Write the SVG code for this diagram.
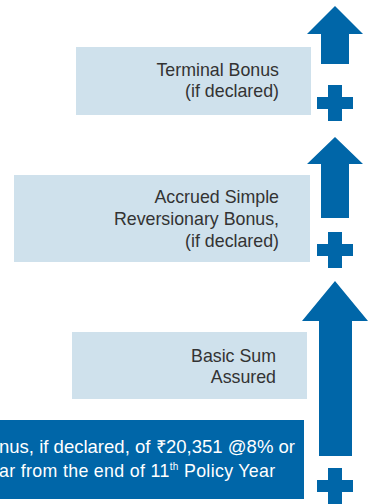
<svg xmlns="http://www.w3.org/2000/svg" width="372" height="504" viewBox="0 0 372 504">
<style>
.lb{fill:#cfe1ec}
.db{fill:#0066a8}
.t{font-family:"Liberation Sans",Arial,sans-serif;font-size:17.8px;fill:#333333;text-anchor:end}
.w{font-family:"Liberation Sans",Arial,sans-serif;font-size:17.8px;fill:#ffffff}
</style>
<defs>
<path id="plus" d="M-7,-18 H7 V-6 H18 V6 H7 V18 H-7 V6 H-18 V-6 H-7 Z"/>
</defs>
<rect width="372" height="504" fill="#ffffff"/>
<g id="connectors">
<path class="db" d="M335,6 L363,34 L349,34 L349,64 L321,64 L321,34 L307,34 Z"/>
<path class="db" d="M335,137 L363,164 L349,164 L349,218 L321,218 L321,164 L307,164 Z"/>
<path class="db" d="M335,281 L368,321 L352,321 L352,456 L319,456 L319,321 L302,321 Z"/>
<use href="#plus" class="db" x="335" y="103"/>
<use href="#plus" class="db" x="335" y="250"/>
<use href="#plus" class="db" x="335" y="486"/>
</g>
<g id="terminal">
<rect class="lb" x="76" y="47" width="235" height="68"/>
<text class="t" x="279" y="76">Terminal Bonus</text>
<text class="t" x="279" y="97">(if declared)</text>
</g>
<g id="accrued">
<rect class="lb" x="14" y="175" width="296" height="87"/>
<text class="t" x="279" y="203">Accrued Simple</text>
<text class="t" x="279" y="225">Reversionary Bonus,</text>
<text class="t" x="279" y="247">(if declared)</text>
</g>
<g id="basic">
<rect class="lb" x="72" y="332" width="235" height="67"/>
<text class="t" x="276" y="362">Basic Sum</text>
<text class="t" x="276" y="383">Assured</text>
</g>
<g id="bonus">
<rect class="db" x="0" y="420" width="304" height="79"/>
<text class="w" x="-1" y="453" textLength="296" lengthAdjust="spacingAndGlyphs">nus, if declared, of ₹20,351 @8% or</text>
<text class="w" x="-1" y="477" letter-spacing="0.33">ar from the end of 11<tspan font-size="10" dy="-7">th</tspan><tspan dy="7"> Policy Year</tspan></text>
</g>
</svg>
